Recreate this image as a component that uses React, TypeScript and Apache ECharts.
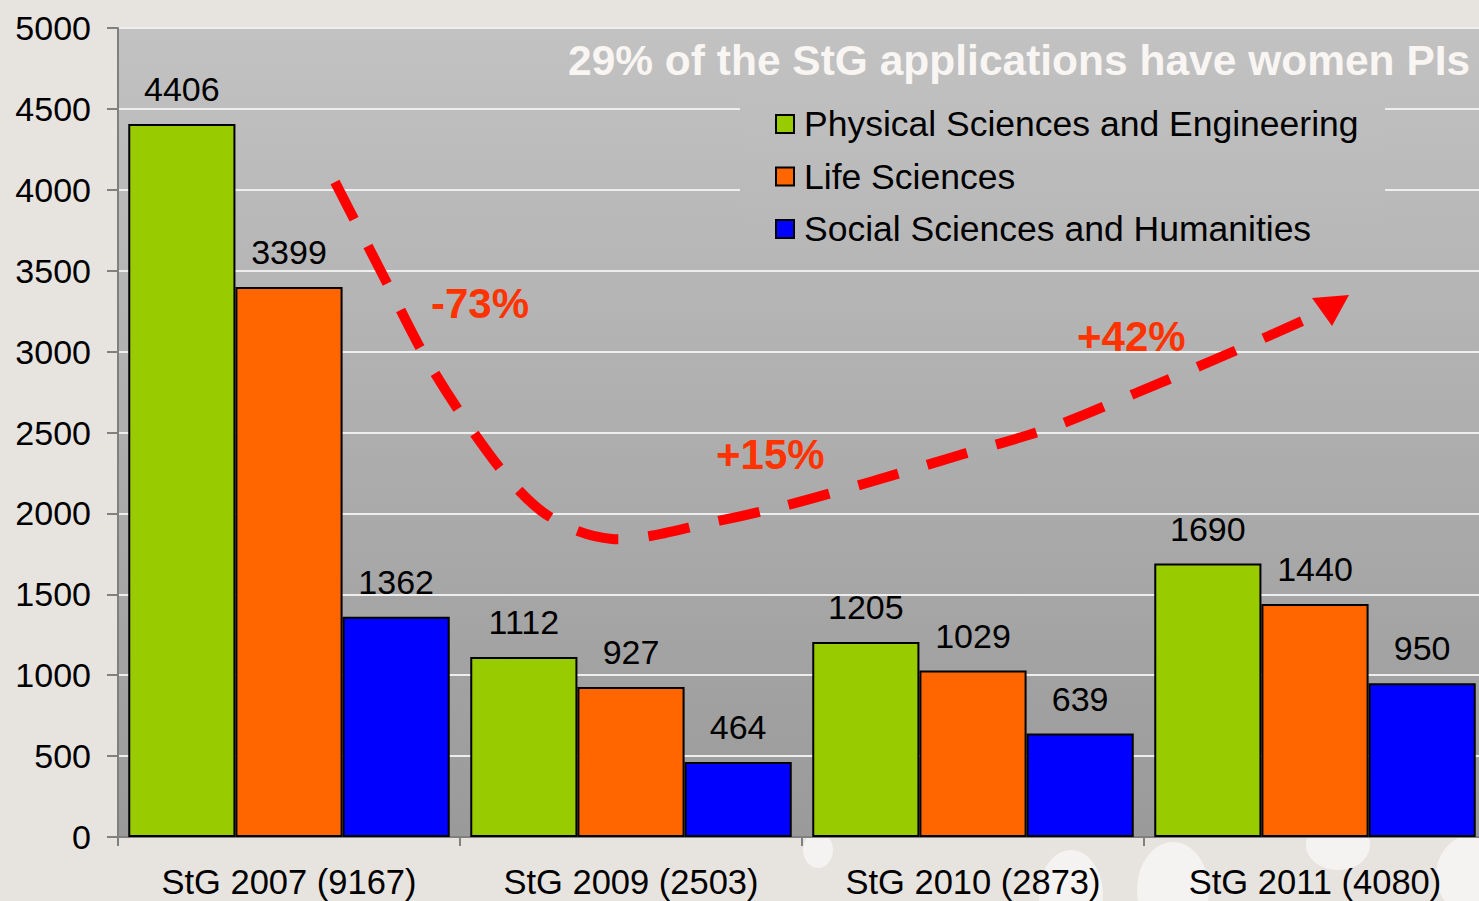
import React, { useEffect, useRef } from "react";
import * as echarts from "echarts";

const categories = ["StG 2007 (9167)", "StG 2009 (2503)", "StG 2010 (2873)", "StG 2011 (4080)"];
const physical = [4406, 1112, 1205, 1690];
const life = [3399, 927, 1029, 1440];
const social = [1362, 464, 639, 950];
const seriesNames = [
  "Physical Sciences and Engineering",
  "Life Sciences",
  "Social Sciences and Humanities",
];
const seriesColors = ["#99cc00", "#ff6600", "#0000ff"];
const titleText = "29% of the StG applications have women PIs";
const changeLabels = ["-73%", "+15%", "+42%"];

const FONT = "'Liberation Sans', Arial, Helvetica, sans-serif";

export default function App() {
  const ref = useRef<HTMLDivElement>(null);
  useEffect(() => {
    if (!ref.current) return;
    const chart = echarts.init(ref.current, null, { renderer: "svg" });
    const mkSeries = (name: string, data: number[], color: string) => ({
      name,
      type: "bar",
      data,
      barGap: "0%",
      barCategoryGap: "6%",
      itemStyle: { color, borderColor: "#000", borderWidth: 2 },
      label: {
        show: true,
        position: "top",
        distance: 18,
        color: "#000",
        fontSize: 34,
        fontFamily: FONT,
      },
      z: 2,
    });
    const curve = [
      [335, 182], [389, 287], [423, 353], [463, 417], [507, 477], [540, 510],
      [575, 530], [612, 539], [650, 536], [700, 525], [780, 507], [870, 482],
      [960, 455], [1050, 428], [1136, 393], [1230, 353], [1318, 314],
    ];
    chart.setOption({
      animation: false,
      backgroundColor: "#e7e3df",
      title: {
        text: titleText,
        left: 563,
        top: 34,
        textStyle: {
          color: "#f8f5f3",
          fontSize: 42.5,
          fontWeight: "bold",
          fontFamily: FONT,
        },
      },
      legend: {
        orient: "vertical",
        left: 770,
        top: 101,
        itemWidth: 18,
        itemHeight: 18,
        itemGap: 16.5,
        icon: "rect",
        z: 6,
        itemStyle: { borderColor: "#000", borderWidth: 2 },
        textStyle: {
          fontSize: 35.5,
          lineHeight: 35,
          color: "#000",
          fontFamily: FONT,
          padding: [0, 0, 0, 5],
        },
        data: seriesNames,
      },
      grid: {
        left: 118,
        top: 28,
        right: 0,
        bottom: 64,
        show: true,
        borderWidth: 2,
        borderColor: "#808080",
        backgroundColor: new echarts.graphic.LinearGradient(0, 0, 0, 1, [
          { offset: 0, color: "#c2c2c2" },
          { offset: 1, color: "#9a9a9a" },
        ]),
      },
      xAxis: {
        type: "category",
        data: categories,
        axisLine: { lineStyle: { color: "#808080", width: 2 } },
        axisTick: { show: true, length: 9, lineStyle: { color: "#808080", width: 2 } },
        axisLabel: {
          color: "#000",
          fontSize: 34.5,
          fontFamily: FONT,
          margin: 27,
        },
      },
      yAxis: {
        type: "value",
        min: 0,
        max: 5000,
        interval: 500,
        axisLine: { show: true, lineStyle: { color: "#808080", width: 2 } },
        axisTick: { show: true, length: 11, lineStyle: { color: "#808080", width: 2 } },
        axisLabel: {
          color: "#000",
          fontSize: 34,
          fontFamily: FONT,
          margin: 27,
          formatter: (v: number) => String(v),
        },
        splitLine: { show: true, lineStyle: { color: "#eeeeee", width: 2 } },
      },
      graphic: [
        { type: "ellipse", z: -10, shape: { cx: 818, cy: 850, rx: 15, ry: 18 }, style: { fill: "#f5f3f1" } },
        { type: "ellipse", z: -10, shape: { cx: 1071, cy: 895, rx: 32, ry: 45 }, style: { fill: "#f5f3f1" } },
        { type: "ellipse", z: -10, shape: { cx: 1173, cy: 890, rx: 36, ry: 48 }, style: { fill: "#f5f3f1" } },
        { type: "ellipse", z: -10, shape: { cx: 1257, cy: 940, rx: 30, ry: 25 }, style: { fill: "#f5f3f1" } },
        { type: "ellipse", z: -10, shape: { cx: 1338, cy: 845, rx: 32, ry: 25 }, style: { fill: "#f5f3f1" } },
        { type: "ellipse", z: -10, shape: { cx: 1478, cy: 875, rx: 42, ry: 42 }, style: { fill: "#f5f3f1" } },
        {
          type: "rect",
          z: 1,
          shape: { x: 740, y: 96, width: 645, height: 158 },
          style: {
            fill: new echarts.graphic.LinearGradient(0, 0, 0, 1, [
              { offset: 0, color: "#bfbfbf" },
              { offset: 1, color: "#b7b7b7" },
            ]),
          },
        },
        {
          type: "polyline",
          z: 5,
          shape: { points: curve, smooth: 0.3 },
          style: {
            stroke: "#ff0000",
            lineWidth: 10,
            lineDash: [42, 30],
            fill: null,
          },
        },
        {
          type: "polygon",
          z: 5,
          shape: { points: [[1349, 295], [1312, 298], [1332, 326]] },
          style: { fill: "#ff0000" },
        },
        {
          type: "text",
          z: 6,
          x: 431,
          y: 282,
          style: { text: changeLabels[0], fill: "#ff3300", font: `bold 42px ${FONT}` },
        },
        {
          type: "text",
          z: 6,
          x: 716,
          y: 433,
          style: { text: changeLabels[1], fill: "#ff3300", font: `bold 42px ${FONT}` },
        },
        {
          type: "text",
          z: 6,
          x: 1077,
          y: 315,
          style: { text: changeLabels[2], fill: "#ff3300", font: `bold 42px ${FONT}` },
        },
      ],
      series: [
        mkSeries(seriesNames[0], physical, seriesColors[0]),
        mkSeries(seriesNames[1], life, seriesColors[1]),
        mkSeries(seriesNames[2], social, seriesColors[2]),
      ],
    });
    return () => chart.dispose();
  }, []);
  return (
    <div
      ref={ref}
      style={{ position: "fixed", left: 0, top: 0, width: 1486, height: 901 }}
    />
  );
}
